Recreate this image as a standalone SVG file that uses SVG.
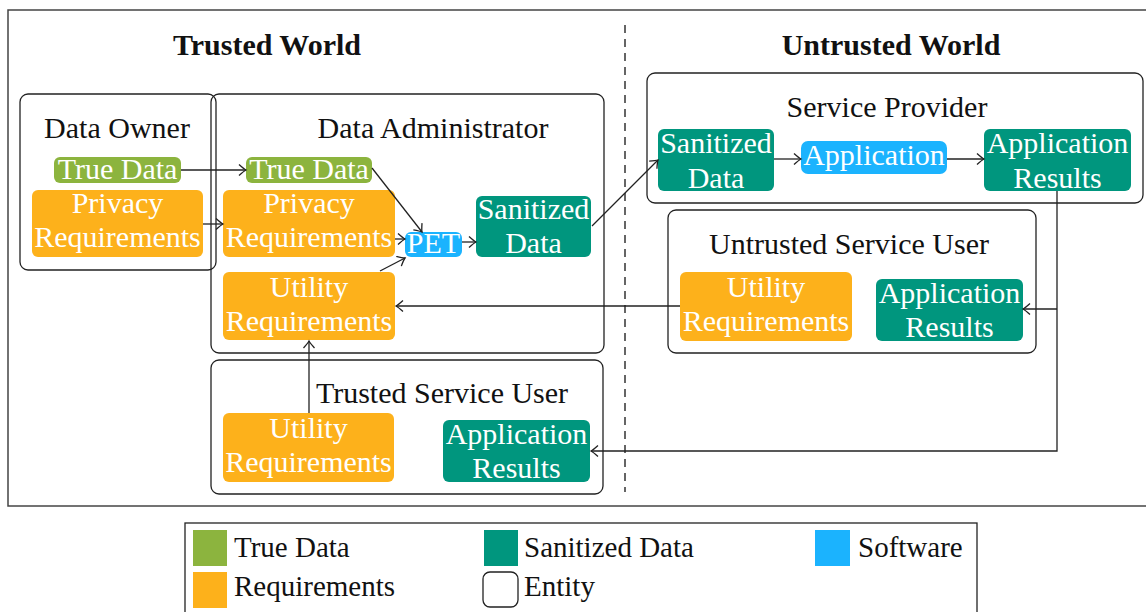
<svg xmlns="http://www.w3.org/2000/svg" width="1146" height="612" viewBox="0 0 1146 612">
<style>
text{font-family:"Liberation Serif","Times New Roman",serif;}
.h{font-size:30px;font-weight:bold;fill:#111;text-anchor:middle;}
.t{font-size:30px;fill:#111;text-anchor:middle;}
.w{font-size:30px;fill:#fff;text-anchor:middle;}
.lg{font-size:29px;fill:#111;}
.ent{fill:none;stroke:#222;stroke-width:1.3;}
.g{fill:#8CB43E;}
.o{fill:#FDB11B;}
.s{fill:#00967E;}
.b{fill:#1BB3FE;}
.c{fill:none;stroke:#222;stroke-width:1.3;marker-end:url(#arr);}
</style>
<defs>
<marker id="arr" markerWidth="12" markerHeight="12" viewBox="-10 -6 12 12" refX="0" refY="0" orient="auto" markerUnits="userSpaceOnUse">
<path d="M-7,-5.5 Q-2,-1 0,0 Q-2,1 -7,5.5" fill="none" stroke="#222" stroke-width="1.3"/>
</marker>
</defs>
<rect x="0" y="0" width="1146" height="612" fill="#fff"/>
<rect x="8" y="10" width="1150" height="496" fill="none" stroke="#444" stroke-width="1.5"/>
<line x1="625" y1="25" x2="625" y2="492" stroke="#555" stroke-width="1.8" stroke-dasharray="8,6"/>
<text class="h" x="267" y="55">Trusted World</text>
<text class="h" x="891" y="55">Untrusted World</text>

<g id="data-owner">
<rect class="ent" x="20" y="94" width="196" height="176" rx="8"/>
<text class="t" x="117" y="138">Data Owner</text>
<g id="owner-true-data"><rect class="g" x="54" y="157" width="127" height="26" rx="6"/><text class="w" x="117.5" y="179">True Data</text></g>
<g id="owner-privacy"><rect class="o" x="32" y="190" width="171" height="67" rx="6"/><text class="w" x="117.5" y="213">Privacy</text><text class="w" x="117.5" y="247">Requirements</text></g>
</g>

<g id="data-administrator">
<rect class="ent" x="211" y="94" width="393" height="259" rx="8"/>
<text class="t" x="433" y="138">Data Administrator</text>
<g id="admin-true-data"><rect class="g" x="246" y="157" width="126" height="26" rx="6"/><text class="w" x="309" y="179">True Data</text></g>
<g id="admin-privacy"><rect class="o" x="223" y="190" width="172" height="67" rx="6"/><text class="w" x="309" y="213">Privacy</text><text class="w" x="309" y="247">Requirements</text></g>
<g id="admin-utility"><rect class="o" x="223" y="272" width="172" height="68" rx="6"/><text class="w" x="309" y="297">Utility</text><text class="w" x="309" y="331">Requirements</text></g>
<g id="pet"><rect class="b" x="405" y="232" width="57" height="25" rx="6"/><text class="w" x="433.5" y="253">PET</text></g>
<g id="admin-sanitized"><rect class="s" x="476" y="196" width="115" height="61" rx="6"/><text class="w" x="533.5" y="219">Sanitized</text><text class="w" x="533.5" y="253">Data</text></g>
</g>

<g id="trusted-service-user">
<rect class="ent" x="211" y="360" width="392" height="134" rx="8"/>
<text class="t" x="442" y="403">Trusted Service User</text>
<g id="tsu-utility"><rect class="o" x="223" y="413" width="171" height="69" rx="6"/><text class="w" x="308.5" y="438">Utility</text><text class="w" x="308.5" y="472">Requirements</text></g>
<g id="tsu-results"><rect class="s" x="443" y="420" width="147" height="62" rx="6"/><text class="w" x="516.5" y="444">Application</text><text class="w" x="516.5" y="478">Results</text></g>
</g>

<g id="service-provider">
<rect class="ent" x="647" y="73" width="496" height="130" rx="8"/>
<text class="t" x="887" y="117">Service Provider</text>
<g id="sp-sanitized"><rect class="s" x="658" y="129" width="116" height="62" rx="6"/><text class="w" x="716" y="153">Sanitized</text><text class="w" x="716" y="188">Data</text></g>
<g id="sp-application"><rect class="b" x="801" y="141" width="146" height="33" rx="7"/><text class="w" x="874" y="165">Application</text></g>
<g id="sp-results"><rect class="s" x="984" y="129" width="147" height="62" rx="6"/><text class="w" x="1057.5" y="153">Application</text><text class="w" x="1057.5" y="188">Results</text></g>
</g>

<g id="untrusted-service-user">
<rect class="ent" x="668" y="210" width="368" height="143" rx="8"/>
<text class="t" x="849" y="254">Untrusted Service User</text>
<g id="usu-utility"><rect class="o" x="680" y="272" width="172" height="69" rx="6"/><text class="w" x="766" y="297">Utility</text><text class="w" x="766" y="331">Requirements</text></g>
<g id="usu-results"><rect class="s" x="876" y="279" width="147" height="62" rx="6"/><text class="w" x="949.5" y="303">Application</text><text class="w" x="949.5" y="337">Results</text></g>
</g>

<g id="connectors">
<path class="c" d="M181,170 H246"/>
<path class="c" d="M203,224 H223"/>
<path class="c" d="M372,168 L422,232"/>
<path class="c" d="M395,239 H405"/>
<path class="c" d="M380,271 L405,258"/>
<path class="c" d="M462,242 H476"/>
<path class="c" d="M592,226 L658,160"/>
<path class="c" d="M774,159 H801"/>
<path class="c" d="M947,159 H984"/>
<path class="c" d="M1057,191 V451 H591"/>
<path class="c" d="M1057,309 H1023"/>
<path class="c" d="M680,306 H396"/>
<path class="c" d="M309,413 V341"/>
</g>

<g id="legend">
<rect x="185" y="523" width="792" height="100" fill="none" stroke="#222" stroke-width="1.3"/>
<rect class="g" x="193" y="530" width="34" height="36"/>
<text class="lg" x="234" y="557">True Data</text>
<rect class="s" x="484" y="530" width="34" height="36"/>
<text class="lg" x="524" y="557">Sanitized Data</text>
<rect class="b" x="815" y="530" width="35" height="36"/>
<text class="lg" x="858" y="557">Software</text>
<rect class="o" x="193" y="572" width="34" height="36"/>
<text class="lg" x="234" y="596">Requirements</text>
<rect class="ent" x="483" y="572" width="35" height="35" rx="7"/>
<text class="lg" x="524" y="596">Entity</text>
</g>
</svg>
